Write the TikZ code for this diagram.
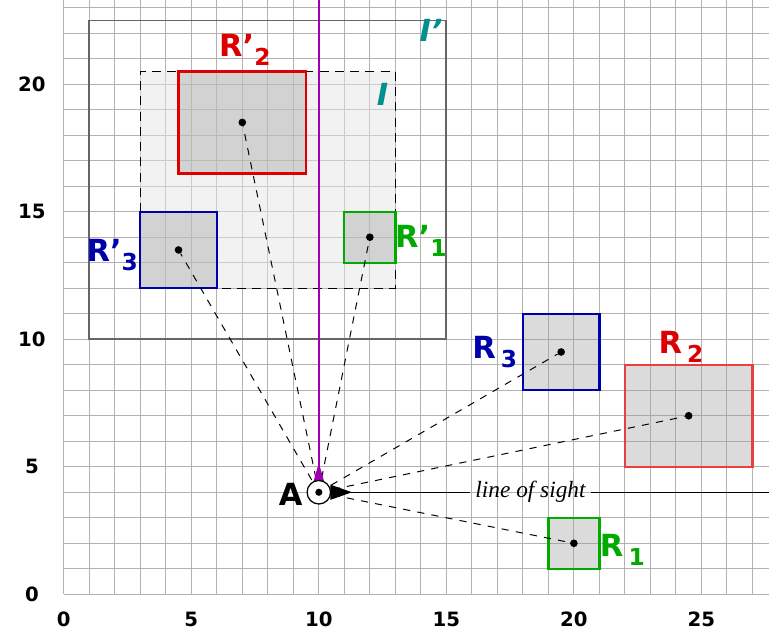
\documentclass[tikz,border=0pt]{standalone}
\usepackage{fontspec}
\setsansfont{DejaVu Sans}
\newfontfamily\sightfont{Liberation Serif}
\usetikzlibrary{positioning,arrows.meta,calc}

\definecolor{rred}{HTML}{DD0000}
\definecolor{rblue}{HTML}{0000AA}
\definecolor{rgreen}{HTML}{00AA00}
\definecolor{iteal}{HTML}{009090}
\definecolor{sightmag}{HTML}{A000B0}

\newcommand{\rname}[2]{R#1\raisebox{-0.55ex}{\fontsize{13}{13}\selectfont #2}}

\begin{document}
\begin{tikzpicture}[x=0.5cm,y=0.5cm,
  gridline/.style={draw=black!30,line width=0.6pt},
  room/.style={fill=black!40,fill opacity=0.35,line width=1.3pt},
  dot/.style={circle,fill=black,inner sep=0pt,minimum size=1.5mm},
  ray/.style={dash pattern=on 4pt off 4pt,line width=0.55pt},
  rlab/.style={font=\sffamily\bfseries\fontsize{17}{17}\selectfont},
  ilab/.style={font=\sffamily\bfseries\itshape\fontsize{17}{17}\selectfont,text=iteal},
  ticklab/.style={font=\sffamily\bfseries\fontsize{11}{11}\selectfont}]
  \useasboundingbox (-2.5,-1.45) rectangle (27.65,23.3);
  % background grid and axis numbers
  \draw[gridline,step=0.5cm] (0,0) grid (27.65,23.3);
  \foreach \v in {0,5,...,25} \node[ticklab] (xt\v) at (\v,-1.0) {\v};
  \foreach \v in {0,5,...,20} \node[ticklab] (yt\v) at (-1.25,\v) {\v};
  % image regions
  \draw[black!60,line width=1pt] (1,10) rectangle (15,22.5);
  \draw[dash pattern=on 5pt off 3.5pt,line width=0.8pt,fill=black!10,fill opacity=0.5] (3,12) rectangle (13,20.5);
  \node[ilab] (imgp) at (14.4,22.1) {I’};
  \node[ilab] (img) at (12.5,19.6) {I};
  % rooms
  \draw[room,draw=rred] (4.5,16.5) rectangle (9.5,20.5);
  \draw[room,draw=rblue] (3,12) rectangle (6,15);
  \draw[room,draw=rgreen] (11,13) rectangle (13,15);
  \draw[room,draw=rblue] (18,8) rectangle (21,11);
  \draw[room,draw=rred!75] (22,5) rectangle (27,9);
  \draw[room,draw=rgreen] (19,1) rectangle (21,3);
  \node[dot] (c2p) at (7,18.5) {};
  \node[dot] (c3p) at (4.5,13.5) {};
  \node[dot] (c1p) at (12,14) {};
  \node[dot] (c3) at (19.5,9.5) {};
  \node[dot] (c2) at (24.5,7) {};
  \node[dot] (c1) at (20,2) {};
  \node[rlab,text=rred] (l2p) at (7.1,21.35) {\rname{’}{2}};
  \node[rlab,text=rblue] (l3p) at (1.9,13.3) {\rname{’}{3}};
  \node[rlab,text=rgreen] (l1p) at (14.0,13.85) {\rname{’}{1}};
  \node[rlab,text=rblue] (l3) at (16.9,9.5) {\rname{\,}{3}};
  \node[rlab,text=rred] (l2) at (24.2,9.7) {\rname{\,}{2}};
  \node[rlab,text=rgreen] (l1) at (21.9,1.75) {\rname{\,}{1}};
  % observer
  \coordinate (A) at (10,4);
  \coordinate (top) at (10,23.3);
  \coordinate (east) at (27.65,4);
  \draw[sightmag,line width=0.8pt] (A) -- (top);
  \foreach \c in {c1,c2,c3,c1p,c2p,c3p} \draw[ray] (A) -- (\c);
  \node[font=\sightfont\itshape\fontsize{13}{13}\selectfont,inner sep=3pt] (los) at (18.3,4) {line of sight};
  \draw[line width=0.7pt] (A) -- (los.west);
  \draw[line width=0.7pt] (los.east) -- (east);
  \fill[sightmag] (9.8,4.45) -- (10.2,4.45) -- (10,5.15) -- cycle;
  \fill[black] (10.45,4.3) -- (10.45,3.7) -- (11.3,4) -- cycle;
  \node[circle,draw,fill=white,line width=0.7pt,minimum size=4.6mm,inner sep=0pt] (obs) at (A) {};
  \node[dot,minimum size=1.4mm] (obsc) at (A) {};
  \node[rlab,text=black] (alab) at (8.9,3.9) {A};
\end{tikzpicture}
\end{document}
